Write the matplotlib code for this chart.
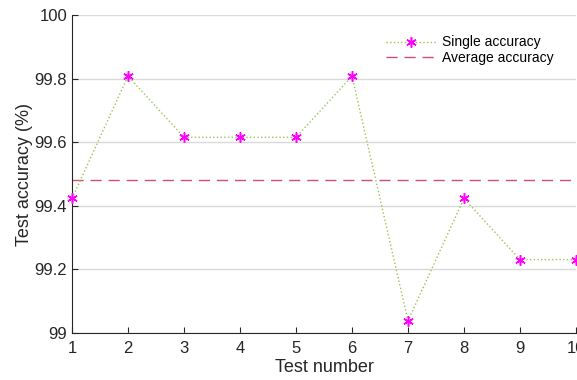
import matplotlib
matplotlib.use("Agg")
import matplotlib.pyplot as plt
import numpy as np

plt.rcParams["font.family"] = ["Liberation Sans", "DejaVu Sans"]

test_number = [1, 2, 3, 4, 5, 6, 7, 8, 9, 10]
single_accuracy = [99.4231, 99.8077, 99.6154, 99.6154, 99.6154,
                   99.8077, 99.0385, 99.4231, 99.2308, 99.2308]
average_accuracy = np.mean(single_accuracy)

fig = plt.figure(figsize=(5.77, 3.80), dpi=100)
ax = fig.add_axes([72 / 577, 47 / 380, 504 / 577, 318 / 380])

ax.plot(test_number, single_accuracy, linestyle=":", color="#9dc25a", linewidth=1.0,
        marker=(6, 2, 0), markersize=7.5, markeredgecolor="#ff00ff", markeredgewidth=1.1,
        label="Single accuracy", clip_on=False, zorder=3)
ax.plot([1, 10], [average_accuracy, average_accuracy], linestyle=(0, (8, 5)),
        color="#d0506e", linewidth=1.0, label="Average accuracy")

ax.set_xlim(1, 10)
ax.set_ylim(99, 100)
ax.set_xticks(test_number)
ax.set_yticks([99, 99.2, 99.4, 99.6, 99.8, 100])
ax.set_yticklabels(["99", "99.2", "99.4", "99.6", "99.8", "100"])
ax.yaxis.grid(True, color="#d9d9d9", linewidth=1.0)
ax.set_axisbelow(True)
ax.spines["top"].set_visible(False)
ax.spines["right"].set_visible(False)
for s in ("left", "bottom"):
    ax.spines[s].set_color("#262626")
ax.tick_params(labelsize=12, colors="#262626", direction="in", length=4)
ax.tick_params(axis="x", pad=6)
ax.set_xlabel("Test number", fontsize=13, color="#262626", labelpad=2)
ax.set_ylabel("Test accuracy (%)", fontsize=13, color="#262626", labelpad=1)

ax.legend(loc="upper right", bbox_to_anchor=(0.98, 0.975), frameon=False, fontsize=10,
          handlelength=3.6, handletextpad=0.4, labelspacing=0.1)

fig.savefig("out.png", dpi=100, facecolor="white")
